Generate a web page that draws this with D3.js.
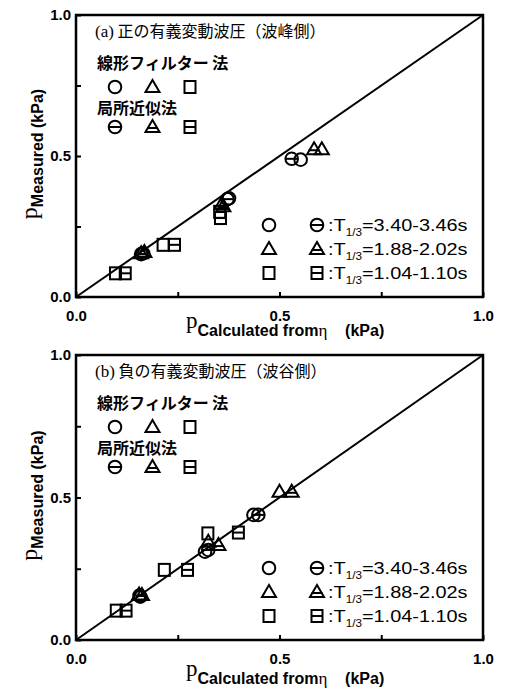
<!DOCTYPE html>
<html>
<head>
<meta charset="utf-8">
<script src="https://cdn.jsdelivr.net/npm/d3@7"></script>
<style>
  body { margin: 0; background: #fff; }
  svg { display: block; }
  .tick text { font-family: "Liberation Sans", Arial, sans-serif; font-weight: bold; font-size: 15px; fill: #000; }
</style>
</head>
<body>
<div id="container"></div>
<script>
'use strict';

// ---- data (kPa) ----
var tickValues = [0, 0.25, 0.5, 0.75, 1];
var tickLabels = ['0.0', '', '0.5', '', '1.0'];

// panel (a): positive significant fluctuating pressure
var aCircle    = [[0.165, 0.155], [0.376, 0.350], [0.552, 0.487]];
var aCircleH   = [[0.160, 0.152], [0.372, 0.347], [0.530, 0.490]];
var aTriangle  = [[0.168, 0.160], [0.358, 0.330], [0.604, 0.524]];
var aTriangleH = [[0.160, 0.155], [0.362, 0.322], [0.585, 0.524]];
var aSquare    = [[0.097, 0.084], [0.214, 0.185], [0.353, 0.302]];
var aSquareH   = [[0.121, 0.084], [0.242, 0.185], [0.355, 0.280]];

// panel (b): negative significant fluctuating pressure
var bCircle    = [[0.158, 0.152], [0.317, 0.310], [0.436, 0.439]];
var bCircleH   = [[0.156, 0.156], [0.325, 0.316], [0.448, 0.439]];
var bTriangle  = [[0.155, 0.160], [0.325, 0.345], [0.500, 0.520]];
var bTriangleH = [[0.162, 0.158], [0.350, 0.333], [0.530, 0.520]];
var bSquare    = [[0.099, 0.103], [0.217, 0.246], [0.324, 0.374]];
var bSquareH   = [[0.123, 0.103], [0.274, 0.246], [0.399, 0.377]];

var periodLabels = ['=3.40-3.46s', '=1.88-2.02s', '=1.04-1.10s'];

var panels = [
  { title: '(a)', titleJa: ' 正の有義変動波圧（波峰側）', top: 15, bottom: 297, xTitleGap: 31,
    series: [['circle', aCircle], ['circleH', aCircleH], ['triangle', aTriangle],
             ['triangleH', aTriangleH], ['square', aSquare], ['squareH', aSquareH]] },
  { title: '(b)', titleJa: ' 負の有義変動波圧（波谷側）', top: 355, bottom: 640, xTitleGap: 36,
    series: [['circle', bCircle], ['circleH', bCircleH], ['triangle', bTriangle],
             ['triangleH', bTriangleH], ['square', bSquare], ['squareH', bSquareH]] }
];

var width = 509, height = 690;
var left = 76, right = 483;

var svg = d3.select('#container').append('svg')
  .attr('width', width)
  .attr('height', height);

var jaFont = '"Noto Sans CJK JP", sans-serif';
var sansFont = '"Liberation Sans", Arial, sans-serif';
var serifFont = '"Liberation Serif", "Times New Roman", serif';

function marker(g, type, cx, cy) {
  var m = g.append('g')
    .attr('transform', 'translate(' + cx + ',' + cy + ')')
    .attr('fill', 'none')
    .attr('stroke', '#000')
    .attr('stroke-width', 2);
  if (type === 'circle' || type === 'circleH') {
    m.append('circle').attr('r', 6.3);
    if (type === 'circleH') m.append('line').attr('x1', -6.3).attr('x2', 6.3);
  } else if (type === 'triangle' || type === 'triangleH') {
    m.append('path').attr('d', 'M0,-7L7,5L-7,5Z').attr('stroke-linejoin', 'miter');
    if (type === 'triangleH') m.append('line').attr('x1', -5.5).attr('x2', 5.5).attr('y1', 1).attr('y2', 1);
  } else {
    m.append('rect').attr('x', -5.5).attr('y', -6).attr('width', 11).attr('height', 12);
    if (type === 'squareH') m.append('line').attr('x1', -5.5).attr('x2', 5.5);
  }
}

panels.forEach(function(p) {
  var x = d3.scaleLinear().domain([0, 1]).range([left, right]);
  var y = d3.scaleLinear().domain([0, 1]).range([p.bottom, p.top]);
  var g = svg.append('g');

  /* ------- AXES -------*/
  var xAxis = d3.axisBottom(x)
    .tickValues(tickValues)
    .tickSizeInner(-5).tickSizeOuter(0).tickPadding(13)
    .tickFormat(function(d, i) { return tickLabels[i]; });
  var yAxis = d3.axisLeft(y)
    .tickValues(tickValues)
    .tickSizeInner(-5).tickSizeOuter(0).tickPadding(5)
    .tickFormat(function(d, i) { return tickLabels[i]; });

  g.append('g').attr('transform', 'translate(0,' + p.bottom + ')').call(xAxis);
  g.append('g').attr('transform', 'translate(' + left + ',0)').call(yAxis);
  g.selectAll('.domain').remove();
  g.selectAll('.tick line').attr('stroke', '#000').attr('stroke-width', 2);

  g.append('rect')
    .attr('x', x(0)).attr('y', y(1))
    .attr('width', x(1) - x(0)).attr('height', y(0) - y(1))
    .attr('fill', 'none').attr('stroke', '#000').attr('stroke-width', 2.5);

  // 1:1 line
  g.append('line')
    .attr('x1', x(0)).attr('y1', y(0))
    .attr('x2', x(1)).attr('y2', y(1))
    .attr('stroke', '#000').attr('stroke-width', 2);

  /* ------- POINTS -------*/
  p.series.forEach(function(s) {
    s[1].forEach(function(d) { marker(g, s[0], x(d[0]), y(d[1])); });
  });

  /* ------- TITLES -------*/
  var t = g.append('text')
    .attr('x', 95).attr('y', p.top + 22)
    .attr('font-size', 16);
  t.append('tspan').attr('font-family', serifFont).attr('font-size', 17).text(p.title);
  t.append('tspan').attr('font-family', jaFont).text(p.titleJa);

  g.append('text').attr('x', 97).attr('y', p.top + 54)
    .attr('font-family', jaFont).attr('font-size', 16).attr('font-weight', 'bold')
    .text('線形フィルター 法');
  g.append('text').attr('x', 97).attr('y', p.top + 99)
    .attr('font-family', jaFont).attr('font-size', 16).attr('font-weight', 'bold')
    .text('局所近似法');

  ['circle', 'triangle', 'square'].forEach(function(k, i) {
    marker(g, k, 115 + i * 37.5, p.top + 72);
    marker(g, k + 'H', 115 + i * 37.5, p.top + 112);
  });

  /* ------- PERIOD LEGEND -------*/
  ['circle', 'triangle', 'square'].forEach(function(k, i) {
    var ly = p.bottom - 72 + i * 24;
    marker(g, k, 269, ly);
    marker(g, k + 'H', 317, ly);
    var lt = g.append('text')
      .attr('transform', 'translate(328,' + (ly + 6) + ') scale(1.17,1)')
      .attr('font-family', sansFont).attr('font-size', 17);
    lt.append('tspan').text(':T');
    lt.append('tspan').attr('font-size', 10).attr('dy', 5).text('1/3');
    lt.append('tspan').attr('dy', -5).text(periodLabels[i]);
  });

  /* ------- AXIS LABELS -------*/
  var xt = g.append('text').attr('x', 186).attr('y', p.bottom + p.xTitleGap);
  xt.append('tspan').attr('font-family', serifFont).attr('font-size', 23).text('p');
  xt.append('tspan').attr('font-family', sansFont).attr('font-weight', 'bold').attr('font-size', 16)
    .attr('dy', 8).text('Calculated from');
  xt.append('tspan').attr('font-family', serifFont).attr('font-size', 17).text('η');
  xt.append('tspan').attr('font-family', sansFont).attr('font-weight', 'bold').attr('font-size', 16)
    .text('\u00a0\u00a0\u00a0\u00a0(kPa)');

  var cy = (p.top + p.bottom) / 2 - 2;
  var yt = g.append('text')
    .attr('transform', 'translate(37,' + cy + ') rotate(-90)')
    .attr('text-anchor', 'middle');
  yt.append('tspan').attr('font-family', serifFont).attr('font-size', 24).text('p');
  yt.append('tspan').attr('font-family', sansFont).attr('font-weight', 'bold').attr('font-size', 16)
    .attr('dy', 6).text('Measured');
  yt.append('tspan').attr('font-family', sansFont).attr('font-weight', 'bold').attr('font-size', 16)
    .text(' (kPa)');
});
</script>
</body>
</html>
